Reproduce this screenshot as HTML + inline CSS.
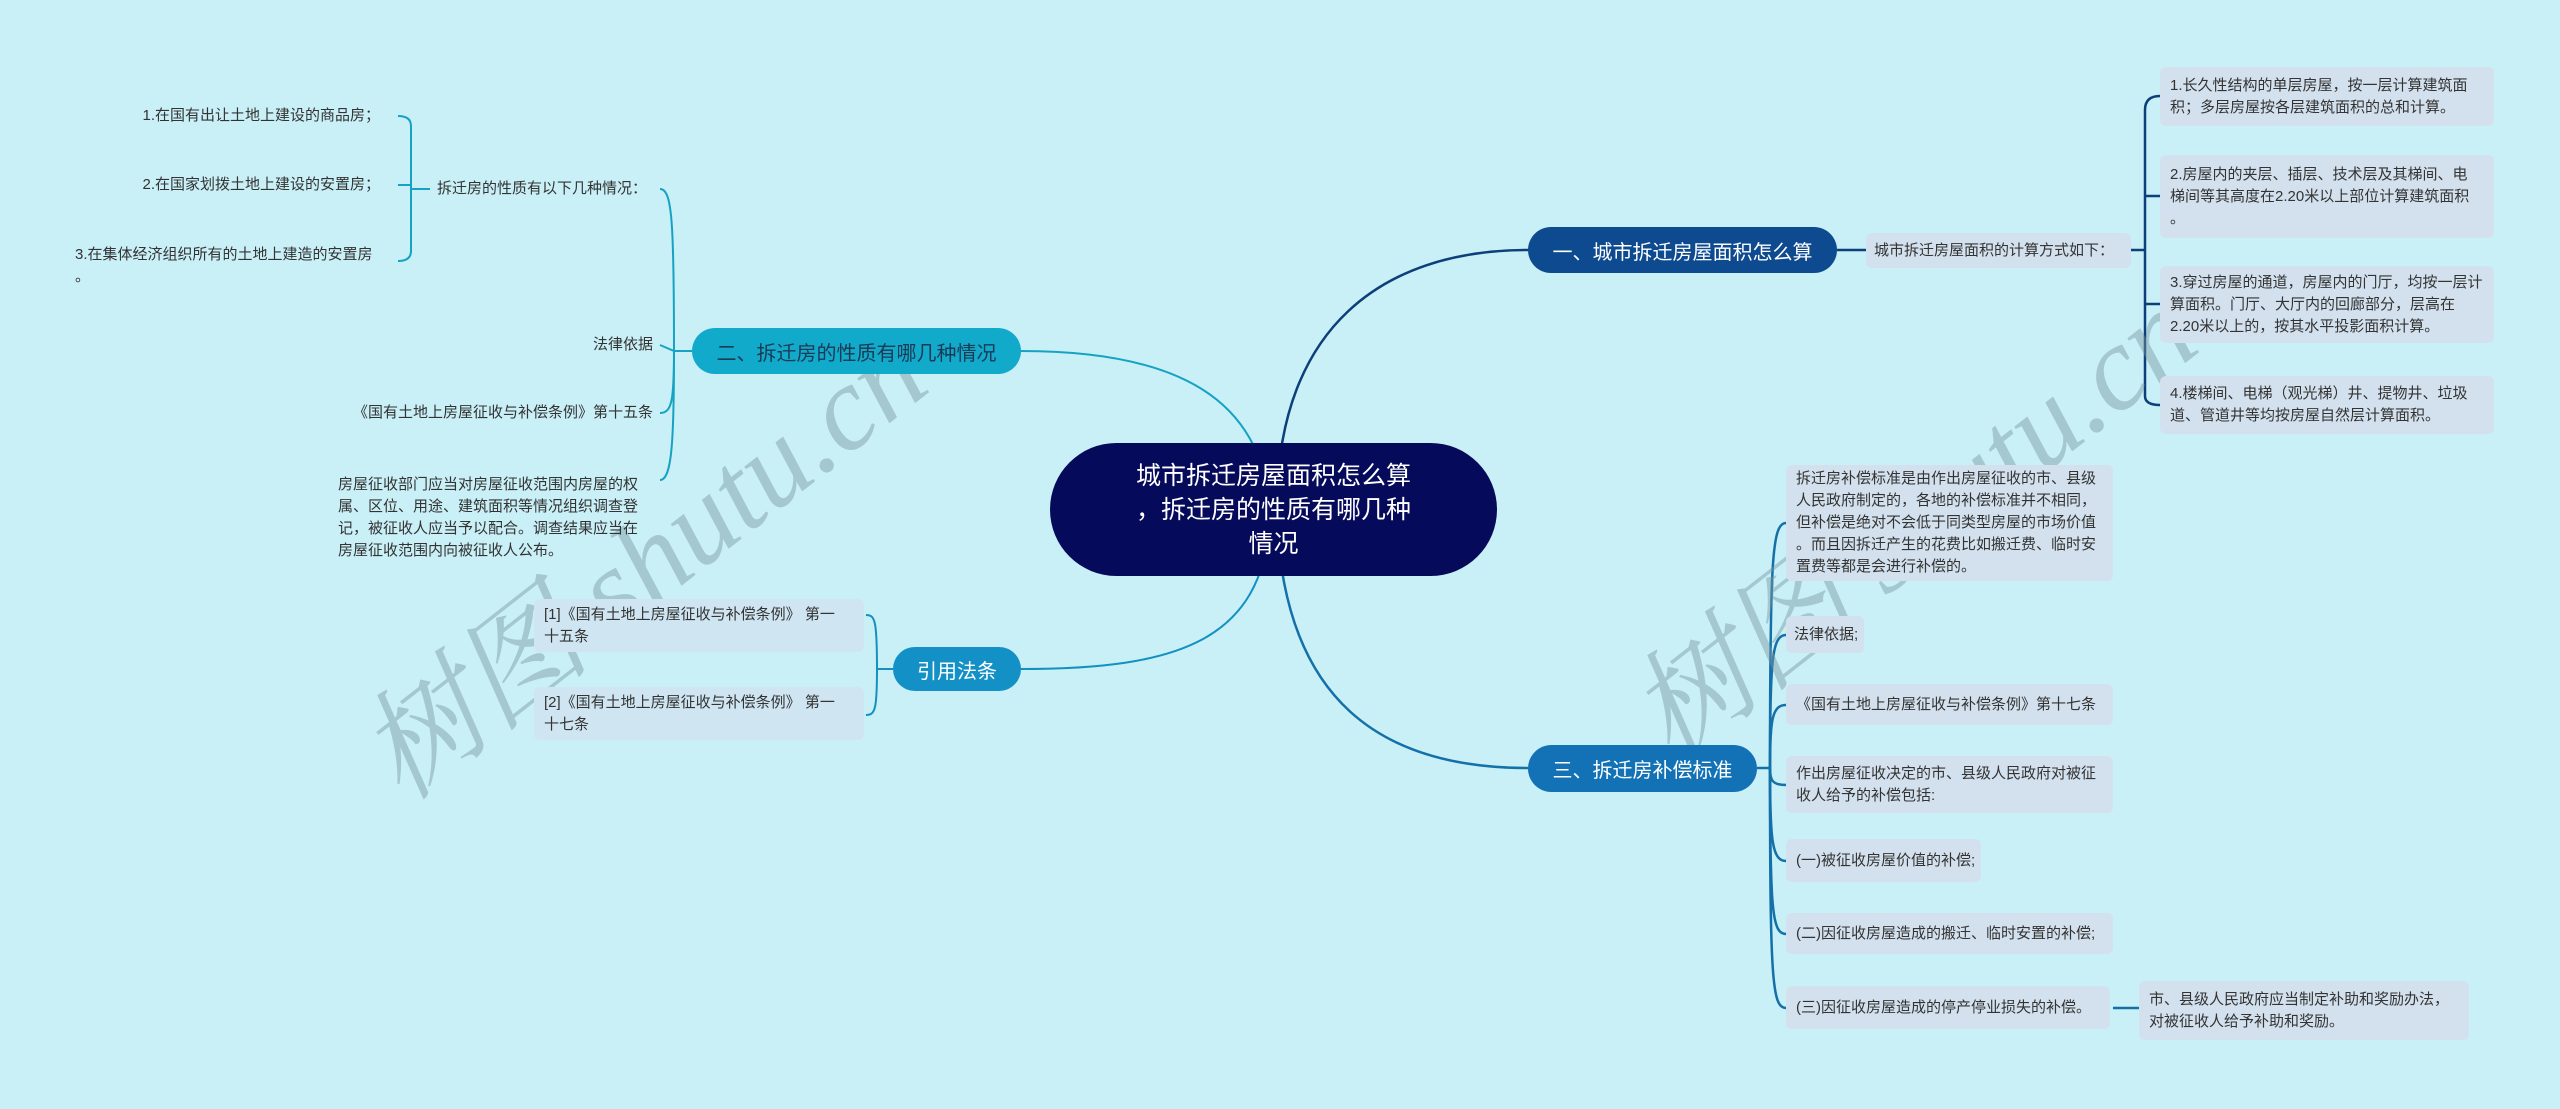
<!DOCTYPE html>
<html><head><meta charset="utf-8"><style>
html,body{margin:0;padding:0}
body{width:2560px;height:1109px;background:#c9eff7;position:relative;overflow:hidden;font-family:"Liberation Sans","Noto Sans CJK SC",sans-serif;color:#333}
.n{position:absolute;box-sizing:border-box}
.br{color:#fff;font-size:20px;border-radius:24px;display:flex;align-items:center;justify-content:center;white-space:nowrap}
.lf{background:#d3e1ee;border-radius:6px;font-size:15px;line-height:22px;padding:7px 10px;display:flex;align-items:center}
.tx{font-size:15px;line-height:22px;text-align:right;white-space:nowrap}
.wm{position:absolute;font-family:"Liberation Serif","Noto Serif CJK SC",serif;font-style:italic;font-size:120px;color:rgba(120,150,160,0.45);transform:rotate(-38deg);white-space:nowrap}
</style></head><body>
<svg width="2560" height="1109" style="position:absolute;left:0;top:0" fill="none">
<g stroke="#0d3f7a" stroke-width="2.5">
<path d="M1277 500 C1280 330,1380 250,1528 250"/>
<path d="M1837 250 L1866 250"/>
<path d="M2131 250 L2145 250"/>
<path d="M2145 250 L2145 110 Q2145 96 2160 96"/>
<path d="M2145 250 L2145 396 Q2145 405 2160 405"/>
<path d="M2145 196 L2160 196"/><path d="M2145 304 L2160 304"/>
</g>
<g stroke="#1470a8" stroke-width="2.5">
<path d="M1277 520 C1285 700,1380 768,1528 768"/>
<path d="M1757 768 L1770 768"/>
<path d="M1770 768 C1770 560,1772 523,1786 523"/>
<path d="M1770 768 C1770 660,1772 635,1786 635"/>
<path d="M1770 768 C1770 720,1772 705,1786 705"/>
<path d="M1770 768 C1770 780,1772 785,1786 785"/>
<path d="M1770 768 C1770 840,1772 861,1786 861"/>
<path d="M1770 768 C1770 910,1772 934,1786 934"/>
<path d="M1770 768 C1770 980,1772 1008,1786 1008"/>
<path d="M2113 1008 L2139 1008"/>
</g>
<g stroke="#16a3c3" stroke-width="2">
<path d="M1021 351 C1180 351,1262 400,1270 510"/>
<path d="M692 351 L674 351"/>
<path d="M674 351 C674 220,672 189,660 189"/>
<path d="M674 351 L660 345"/>
<path d="M674 351 C674 400,672 413,660 413"/>
<path d="M674 351 C674 440,672 480,660 480"/>
<path d="M430 189 L411 189"/>
<path d="M411 189 L411 126 Q411 116 398 116"/>
<path d="M411 189 L411 251 Q411 261 398 261"/>
<path d="M411 185 L398 185"/>
</g>
<g stroke="#1391c0" stroke-width="2">
<path d="M1021 669 C1180 669,1262 640,1270 520"/>
<path d="M893 669 L877 669"/>
<path d="M877 669 C877 620,875 615,866 615"/>
<path d="M877 669 C877 710,875 715,866 715"/>
</g>
</svg>

<div class="wm" style="left:300px;top:470px">树图 shutu.cn</div>
<div class="wm" style="left:1570px;top:430px">树图 shutu.cn</div>

<div class="n" style="left:1050px;top:443px;width:447px;height:133px;background:#060a5a;border-radius:67px;color:#fff;font-size:25px;line-height:34px;text-align:center;display:flex;align-items:center;justify-content:center;white-space:nowrap">城市拆迁房屋面积怎么算<br>，拆迁房的性质有哪几种<br>情况</div>

<div class="n br" style="left:1528px;top:227px;width:309px;height:46px;background:#0d4a8f">一、城市拆迁房屋面积怎么算</div>
<div class="n lf" style="left:1866px;top:233px;width:265px;height:35px;white-space:nowrap;padding:0 8px">城市拆迁房屋面积的计算方式如下：</div>
<div class="n lf" style="left:2160px;top:67px;width:334px;height:59px">1.长久性结构的单层房屋，按一层计算建筑面积；多层房屋按各层建筑面积的总和计算。</div>
<div class="n lf" style="left:2160px;top:155px;width:334px;height:83px;white-space:nowrap">2.房屋内的夹层、插层、技术层及其梯间、电<br>梯间等其高度在2.20米以上部位计算建筑面积<br>。</div>
<div class="n lf" style="left:2160px;top:266px;width:334px;height:77px">3.穿过房屋的通道，房屋内的门厅，均按一层计算面积。门厅、大厅内的回廊部分，层高在2.20米以上的，按其水平投影面积计算。</div>
<div class="n lf" style="left:2160px;top:376px;width:334px;height:58px">4.楼梯间、电梯（观光梯）井、提物井、垃圾道、管道井等均按房屋自然层计算面积。</div>

<div class="n br" style="left:1528px;top:745px;width:229px;height:47px;background:#1272b5">三、拆迁房补偿标准</div>
<div class="n lf" style="left:1786px;top:465px;width:327px;height:116px;white-space:nowrap">拆迁房补偿标准是由作出房屋征收的市、县级<br>人民政府制定的，各地的补偿标准并不相同，<br>但补偿是绝对不会低于同类型房屋的市场价值<br>。而且因拆迁产生的花费比如搬迁费、临时安<br>置费等都是会进行补偿的。</div>
<div class="n lf" style="left:1786px;top:616px;width:78px;height:37px;white-space:nowrap;padding:0 8px">法律依据;</div>
<div class="n lf" style="left:1786px;top:684px;width:327px;height:41px;white-space:nowrap">《国有土地上房屋征收与补偿条例》第十七条</div>
<div class="n lf" style="left:1786px;top:756px;width:327px;height:57px">作出房屋征收决定的市、县级人民政府对被征收人给予的补偿包括:</div>
<div class="n lf" style="left:1786px;top:839px;width:195px;height:43px;white-space:nowrap">(一)被征收房屋价值的补偿;</div>
<div class="n lf" style="left:1786px;top:913px;width:327px;height:41px;white-space:nowrap">(二)因征收房屋造成的搬迁、临时安置的补偿;</div>
<div class="n lf" style="left:1786px;top:986px;width:324px;height:43px;white-space:nowrap">(三)因征收房屋造成的停产停业损失的补偿。</div>
<div class="n lf" style="left:2139px;top:981px;width:330px;height:59px">市、县级人民政府应当制定补助和奖励办法，对被征收人给予补助和奖励。</div>

<div class="n br" style="left:692px;top:328px;width:329px;height:46px;background:#12aacb;color:#1a3a55">二、拆迁房的性质有哪几种情况</div>
<div class="n tx" style="left:420px;top:178px;width:227px">拆迁房的性质有以下几种情况：</div>
<div class="n tx" style="left:100px;top:105px;width:280px">1.在国有出让土地上建设的商品房；</div>
<div class="n tx" style="left:100px;top:174px;width:280px">2.在国家划拨土地上建设的安置房；</div>
<div class="n tx" style="left:75px;top:244px;width:320px;text-align:left">3.在集体经济组织所有的土地上建造的安置房<br>。</div>
<div class="n tx" style="left:500px;top:334px;width:153px">法律依据</div>
<div class="n tx" style="left:300px;top:402px;width:353px">《国有土地上房屋征收与补偿条例》第十五条</div>
<div class="n tx" style="left:338px;top:474px;width:317px;text-align:left">房屋征收部门应当对房屋征收范围内房屋的权<br>属、区位、用途、建筑面积等情况组织调查登<br>记，被征收人应当予以配合。调查结果应当在<br>房屋征收范围内向被征收人公布。</div>

<div class="n br" style="left:893px;top:647px;width:128px;height:44px;background:#1391c6">引用法条</div>
<div class="n lf" style="left:534px;top:599px;width:330px;height:53px;background:#cfe6f2;white-space:nowrap">[1]《国有土地上房屋征收与补偿条例》 第一<br>十五条</div>
<div class="n lf" style="left:534px;top:687px;width:330px;height:53px;background:#cfe6f2;white-space:nowrap">[2]《国有土地上房屋征收与补偿条例》 第一<br>十七条</div>
</body></html>
